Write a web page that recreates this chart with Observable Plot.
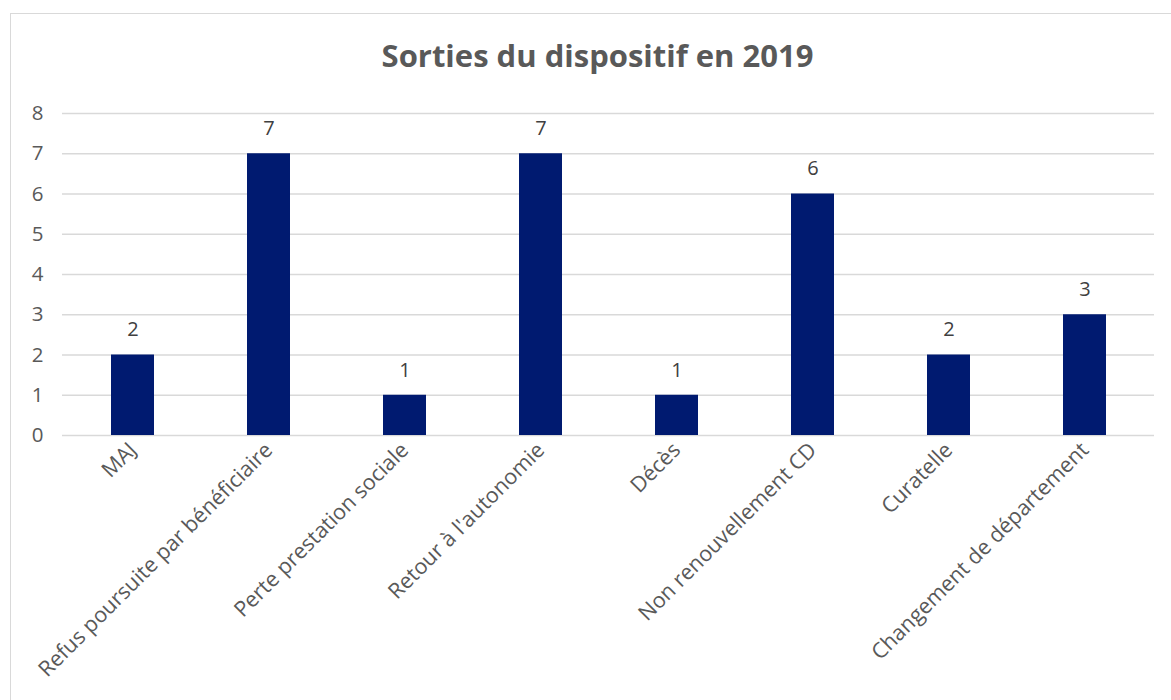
<!DOCTYPE html>
<html>
<head>
<meta charset="utf-8">
<script src="https://cdn.jsdelivr.net/npm/d3@7"></script>
<script src="https://cdn.jsdelivr.net/npm/@observablehq/plot@0.6"></script>
<style>
  html, body { margin: 0; padding: 0; background: #fff; }
  #wrap { position: relative; width: 1171px; height: 700px; overflow: hidden; }
  #border { position: absolute; left: 10px; top: 13px; width: 1170px; height: 700px; border: 1.5px solid #d9d9d9; box-sizing: border-box; }
  #chart { position: absolute; left: 0; top: 0; }
</style>
</head>
<body>
<div id="wrap"><div id="border"></div><div id="chart"></div></div>
<script>
const title = "Sorties du dispositif en 2019";
const categories = ["MAJ", "Refus poursuite par bénéficiaire", "Perte prestation sociale", "Retour à l'autonomie", "Décès", "Non renouvellement CD", "Curatelle", "Changement de département"];
const values = [2, 7, 1, 7, 1, 6, 2, 3];
const yTicks = [0, 1, 2, 3, 4, 5, 6, 7, 8];

const data = categories.map((c, i) => ({category: c, value: values[i]}));

const plot = Plot.plot({
  width: 1171,
  height: 700,
  marginLeft: 62,
  marginRight: 17,
  marginTop: 113,
  marginBottom: 265,
  style: {fontFamily: "'Open Sans', sans-serif", fontSize: "20px", color: "#595959", background: "transparent"},
  x: {domain: categories, paddingInner: 0.685, paddingOuter: 0.3425, label: null},
  y: {domain: [0, 8], label: null},
  marks: [
    Plot.ruleY(yTicks, {stroke: "#d9d9d9", strokeWidth: 1.5}),
    Plot.axisY(yTicks, {tickSize: 0, tickPadding: 19, fontSize: 20.5, fill: "#595959"}),
    Plot.axisX({tickSize: 0, tickRotate: -45, tickPadding: 11, fontSize: 21.5, fill: "#595959"}),
    Plot.barY(data, {x: "category", y: "value", fill: "#001A70"}),
    Plot.text(data, {x: "category", y: "value", text: d => String(d.value), dy: -25, fill: "#404040", fontSize: 20}),
    Plot.text([title], {frameAnchor: "top", dx: -11, dy: -69, fontSize: 31, fontWeight: "bold", fill: "#595959"})
  ]
});
document.getElementById("chart").appendChild(plot);
</script>
</body>
</html>
